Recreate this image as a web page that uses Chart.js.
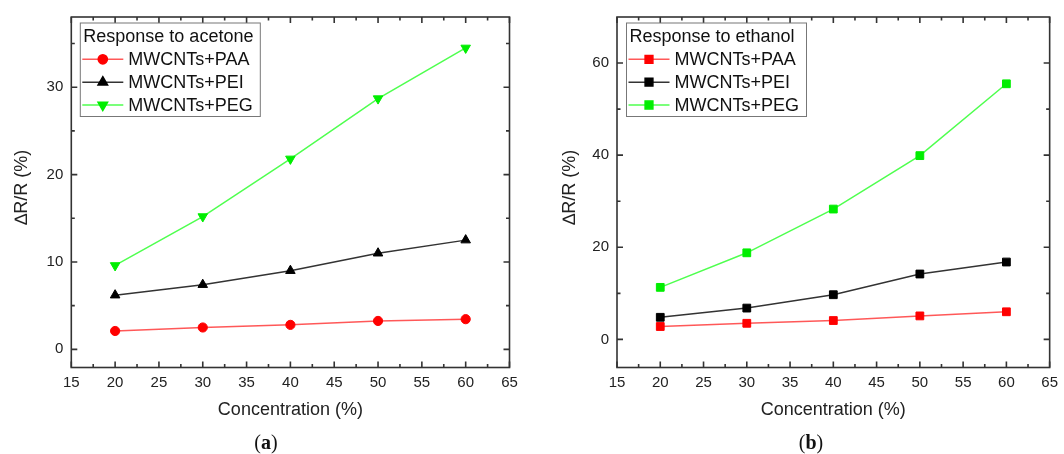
<!DOCTYPE html>
<html lang="en">
<head>
<meta charset="UTF-8" />
<title>Response to acetone / ethanol</title>
<script src="https://cdn.jsdelivr.net/npm/chart.js@4.4.1/dist/chart.umd.min.js"></script>
<style>
  html, body { margin: 0; padding: 0; background: #fff; }
  .wrap { position: relative; width: 1064px; height: 454px; overflow: hidden; }
  .panel { position: absolute; top: 0; }
  .caption {
    position: absolute; top: 431px; transform: translateX(-50%);
    font-family: "Liberation Serif", "DejaVu Serif", serif; font-size: 20px; color: #111;
  }
</style>
</head>
<body>
<div class="wrap">
  <canvas id="chartA" class="panel" style="left:0" width="532" height="454"></canvas>
  <canvas id="chartB" class="panel" style="left:532px" width="532" height="454"></canvas>
  <div class="caption" style="left:266px">(<b>a</b>)</div>
  <div class="caption" style="left:811px">(<b>b</b>)</div>
</div>
<script>
// data
const concentration = [20, 30, 40, 50, 60];

const acetonePAA = [2.1, 2.5, 2.8, 3.25, 3.45];
const acetonePEI = [6.2, 7.4, 9.0, 11.0, 12.5];
const acetonePEG = [9.6, 15.2, 21.8, 28.7, 34.5];

const ethanolPAA = [2.8, 3.5, 4.1, 5.1, 6.0];
const ethanolPEI = [4.8, 6.8, 9.7, 14.2, 16.8];
const ethanolPEG = [11.3, 18.8, 28.3, 39.9, 55.5];

const seriesNames = ["MWCNTs+PAA", "MWCNTs+PEI", "MWCNTs+PEG"];

// ticks
const xTicks = [15, 20, 25, 30, 35, 40, 45, 50, 55, 60, 65];
const xMinorTicks = [17.5, 22.5, 27.5, 32.5, 37.5, 42.5, 47.5, 52.5, 57.5, 62.5];
const acetoneYTicks = [0, 10, 20, 30];
const acetoneYMinor = [5, 15, 25, 35];
const ethanolYTicks = [0, 20, 40, 60];
const ethanolYMinor = [10, 30, 50];

const FONT = "'Liberation Sans', Arial, sans-serif";
const AXIS = "#333";

const framePlugin = {
  id: "frame",
  afterDatasetsDraw(chart, args, opts) {
    const ctx = chart.ctx, a = chart.chartArea;
    const sx = chart.scales.x, sy = chart.scales.y;
    ctx.save();
    ctx.strokeStyle = AXIS;
    ctx.lineWidth = 1.6;
    ctx.beginPath();
    const tick = (vals, len) => {
      vals.forEach(v => {
        const px = sx.getPixelForValue(v);
        ctx.moveTo(px, a.bottom); ctx.lineTo(px, a.bottom - len);
        ctx.moveTo(px, a.top); ctx.lineTo(px, a.top + len);
      });
    };
    const tickY = (vals, len) => {
      vals.forEach(v => {
        const py = sy.getPixelForValue(v);
        ctx.moveTo(a.left, py); ctx.lineTo(a.left + len, py);
        ctx.moveTo(a.right, py); ctx.lineTo(a.right - len, py);
      });
    };
    tick(xTicks, 6); tick(xMinorTicks, 3.5);
    tickY(opts.yMajor, 6); tickY(opts.yMinor, 3.5);
    ctx.stroke();
    ctx.strokeRect(a.left, a.top, a.right - a.left, a.bottom - a.top);

    // legend box
    const L = opts.legend;
    const bx = a.left + L.x, by = L.y;
    ctx.lineWidth = 1;
    ctx.strokeStyle = "#777";
    ctx.strokeRect(bx, by, L.w, L.h);
    ctx.fillStyle = "#111";
    ctx.font = "18px " + FONT;
    ctx.textBaseline = "middle";
    ctx.fillText(L.title, bx + 3, by + 14);
    chart.data.datasets.forEach((ds, i) => {
      const ry = by + 36.3 + i * 22.85;
      ctx.strokeStyle = ds.borderColor;
      ctx.lineWidth = ds.borderWidth;
      ctx.beginPath();
      ctx.moveTo(bx + 2, ry); ctx.lineTo(bx + 43, ry);
      ctx.stroke();
      ctx.fillStyle = ds.pointBackgroundColor;
      ctx.strokeStyle = ds.pointBorderColor;
      Chart.helpers.drawPoint(ctx, {
        pointStyle: ds.pointStyle, radius: ds.pointRadius,
        rotation: ds.pointRotation || 0, borderWidth: 1
      }, bx + 22.5, ry);
      ctx.fillStyle = "#111";
      ctx.fillText(ds.label, bx + 48, ry + 1);
    });
    ctx.restore();
  }
};

function makeDatasets(vals, styles) {
  const colors = [
    { line: "rgba(255,70,70,0.9)", point: "#ff0000" },
    { line: "#333333", point: "#000000" },
    { line: "rgba(70,255,70,0.95)", point: "#00ee00" }
  ];
  return vals.map((v, i) => ({
    label: seriesNames[i],
    data: concentration.map((c, k) => ({ x: c, y: v[k] })),
    borderColor: colors[i].line,
    borderWidth: 1.5,
    pointBackgroundColor: colors[i].point,
    pointBorderColor: colors[i].point,
    pointBorderWidth: 1,
    pointStyle: styles[i].style,
    pointRadius: styles[i].r,
    pointRotation: styles[i].rot || 0,
    tension: 0
  }));
}

function makeChart(id, datasets, cfg) {
  return new Chart(document.getElementById(id), {
    type: "line",
    data: { datasets },
    plugins: [framePlugin],
    options: {
      responsive: false,
      animation: false,
      devicePixelRatio: 1,
      layout: { padding: { left: 0, top: 14, right: cfg.padRight, bottom: 0 } },
      plugins: {
        legend: { display: false },
        tooltip: { enabled: false },
        frame: { yMajor: cfg.yTicks, yMinor: cfg.yMinor, legend: cfg.legend }
      },
      scales: {
        x: {
          type: "linear", min: 15, max: 65,
          afterBuildTicks: s => { s.ticks = xTicks.map(v => ({ value: v })); },
          afterFit: s => { s.height = 86.5; },
          grid: { display: false, drawTicks: false },
          border: { display: false },
          ticks: { font: { family: FONT, size: 15 }, color: "#222", padding: 6, maxRotation: 0, autoSkip: false },
          title: { display: true, text: "Concentration (%)", color: "#222",
                   font: { family: FONT, size: 18 }, padding: { top: 0, bottom: 33 } }
        },
        y: {
          type: "linear", min: cfg.yMin, max: cfg.yMax,
          afterBuildTicks: s => { s.ticks = cfg.yTicks.map(v => ({ value: v })); },
          afterFit: s => { s.width = cfg.yWidth; },
          grid: { display: false, drawTicks: false },
          border: { display: false },
          ticks: { font: { family: FONT, size: 15 }, color: "#222", padding: 8 },
          // leading spaces nudge the rotated title a little upward, as in the figure
          title: { display: true, text: "  \u2206R/R (%)", color: "#222",
                   font: { family: FONT, size: 18 }, padding: { top: cfg.titlePad, bottom: 0 } }
        }
      }
    }
  });
}

makeChart("chartA",
  makeDatasets([acetonePAA, acetonePEI, acetonePEG], [
    { style: "circle", r: 4.6 },
    { style: "triangle", r: 5.5 },
    { style: "triangle", r: 5.5, rot: 180 }
  ]),
  {
    yMin: -2.08, yMax: 38.04, yTicks: acetoneYTicks, yMinor: acetoneYMinor,
    yWidth: 71.3, padRight: 22.5, titlePad: 11,
    legend: { x: 9, y: 23, w: 180, h: 93.5, title: "Response to acetone" }
  });

makeChart("chartB",
  makeDatasets([ethanolPAA, ethanolPEI, ethanolPEG], [
    { style: "rect", r: 5.5 },
    { style: "rect", r: 5.5 },
    { style: "rect", r: 5.5 }
  ]),
  {
    yMin: -6.1, yMax: 70, yTicks: ethanolYTicks, yMinor: ethanolYMinor,
    yWidth: 85, padRight: 10, titlePad: 27,
    legend: { x: 9.5, y: 23, w: 180, h: 93.5, title: "Response to ethanol" }
  });
</script>
</body>
</html>
